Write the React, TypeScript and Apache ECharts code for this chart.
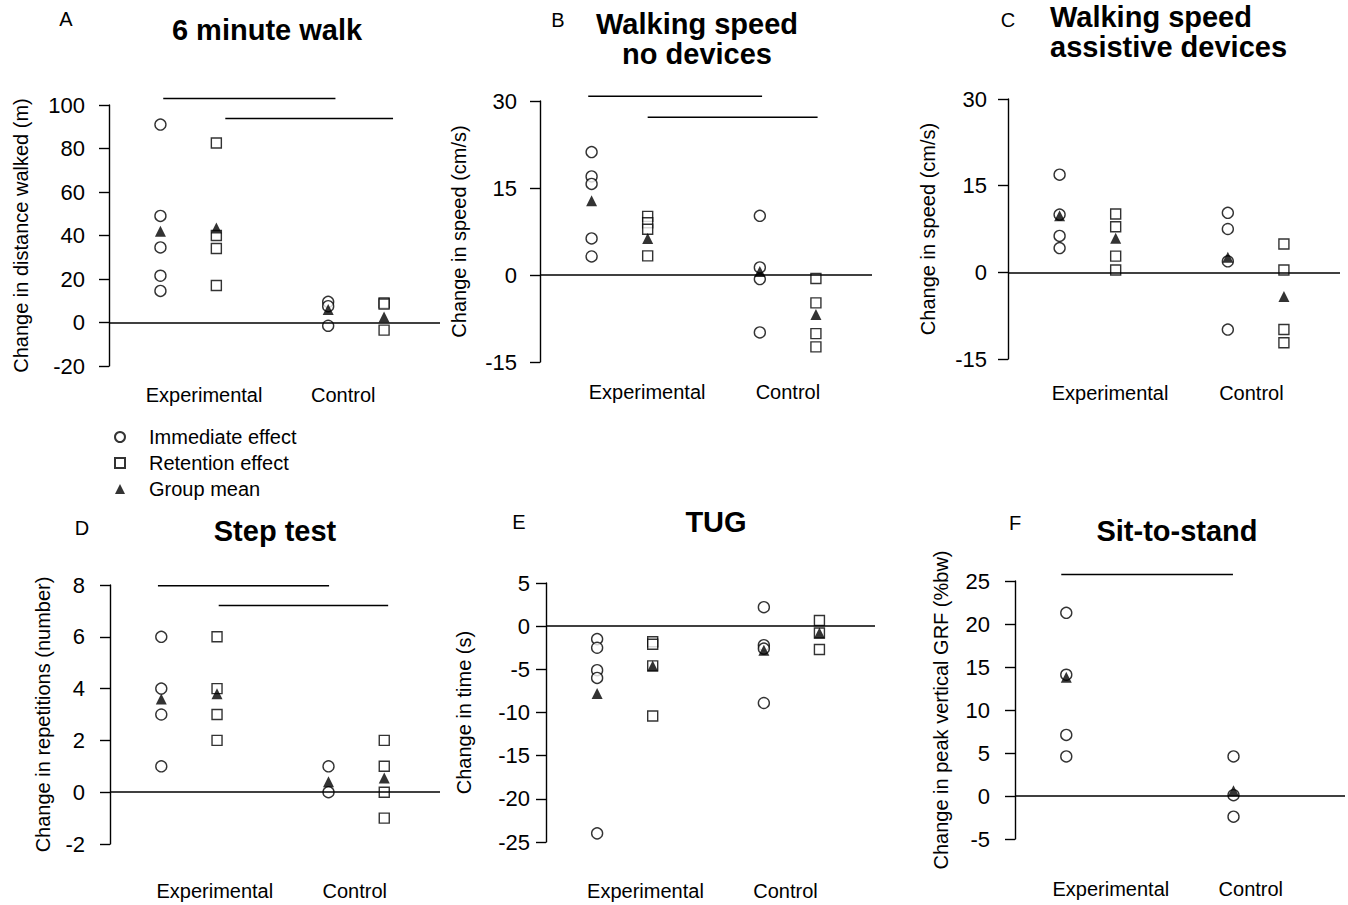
import React, { useEffect, useRef } from 'react';
import * as echarts from 'echarts';

const FONT = 'Liberation Sans, Arial, sans-serif';

// Group positions on the (hidden) x scale
const groupPositions = [1, 2, 4, 5]; // Exp-immediate, Exp-retention, Ctrl-immediate, Ctrl-retention
const categoryNames = ['Experimental', 'Control'];
const legendNames = ['Immediate effect', 'Retention effect', 'Group mean'];

// Panel A: 6 minute walk (m)
const aImmExp = [91, 49, 34.5, 21.5, 14.5];
const aImmCtl = [9.5, 7.5, -1.5];
const aRetExp = [82.5, 40, 34, 17];
const aRetCtl = [9, 8.5, -3.5];
const aMean = [42, 43.5, 6, 2.5];
const aBars = [[1.05, 4.13, 103], [2.16, 5.16, 93.8]];

// Panel B: Walking speed no devices (cm/s)
const bImmExp = [21.2, 17, 15.7, 6.3, 3.2];
const bImmCtl = [10.2, 1.3, -0.7, -9.9];
const bRetExp = [10.1, 9, 7.9, 3.3];
const bRetCtl = [-0.6, -4.8, -10.1, -12.4];
const bMean = [12.8, 6.3, 0.6, -6.8];
const bBars = [[0.94, 4.04, 30.8], [2.0, 5.03, 27.2]];

// Panel C: Walking speed assistive devices (cm/s)
const cImmExp = [16.9, 10, 6.3, 4.2];
const cImmCtl = [10.3, 7.5, 1.9, -9.9];
const cRetExp = [10.1, 7.9, 2.8, 0.4];
const cRetCtl = [4.9, 0.4, -9.9, -12.2];
const cMean = [9.8, 5.9, 2.6, -4.2];

// Panel D: Step test (repetitions)
const dImmExp = [6, 4, 3, 1];
const dImmCtl = [1, 0];
const dRetExp = [6, 4, 3, 2];
const dRetCtl = [2, 1, 0, -1];
const dMean = [3.6, 3.8, 0.4, 0.55];
const dBars = [[0.94, 4.01, 7.97], [2.03, 5.07, 7.21]];

// Panel E: TUG (s)
const eImmExp = [-1.5, -2.5, -5.1, -6, -24];
const eImmCtl = [2.2, -2.2, -2.6, -8.9];
const eRetExp = [-1.8, -2.1, -4.6, -10.4];
const eRetCtl = [0.65, -0.8, -2.7];
const eMean = [-7.8, -4.6, -2.8, -0.8];

// Panel F: Sit-to-stand (%bw)
const fImmExp = [21.3, 14.1, 7.1, 4.6];
const fImmCtl = [4.6, 0.1, -2.4];
const fMean = [13.8, 0.6];
const fMeanPositions = [1, 4];
const fBars = [[0.91, 3.99, 25.75]];

const yTicksA = [-20, 100, 20];
const yTicksB = [-15, 30, 15];
const yTicksC = [-15, 30, 15];
const yTicksD = [-2, 8, 2];
const yTicksE = [-25, 5, 5];
const yTicksF = [-5, 25, 5];

type Panel = {
  imm: number[][];
  ret: number[][] | null;
  mean: number[];
  meanPos: number[];
  bars: number[][];
  ticks: number[];
  yName: string;
  grid: { left: number; top: number; width: number; height: number };
  nameGap: number;
  labelMargin: number;
  catPos: number[];
  catMargin: number;
};

const panels: Panel[] = [
  {
    imm: [aImmExp, aImmCtl], ret: [aRetExp, aRetCtl], mean: aMean, meanPos: groupPositions, bars: aBars,
    ticks: yTicksA, yName: 'Change in distance walked (m)',
    grid: { left: 109, top: 105, width: 331, height: 261 }, nameGap: 78, labelMargin: 24,
    catPos: [1.78, 4.27], catMargin: 19,
  },
  {
    imm: [bImmExp, bImmCtl], ret: [bRetExp, bRetCtl], mean: bMean, meanPos: groupPositions, bars: bBars,
    ticks: yTicksB, yName: 'Change in speed (cm/s)',
    grid: { left: 540, top: 101, width: 332, height: 261 }, nameGap: 71, labelMargin: 23,
    catPos: [1.99, 4.5], catMargin: 20,
  },
  {
    imm: [cImmExp, cImmCtl], ret: [cRetExp, cRetCtl], mean: cMean, meanPos: groupPositions, bars: [],
    ticks: yTicksC, yName: 'Change in speed (cm/s)',
    grid: { left: 1008, top: 99, width: 332, height: 260 }, nameGap: 70, labelMargin: 21,
    catPos: [1.9, 4.42], catMargin: 24,
  },
  {
    imm: [dImmExp, dImmCtl], ret: [dRetExp, dRetCtl], mean: dMean, meanPos: groupPositions, bars: dBars,
    ticks: yTicksD, yName: 'Change in repetitions (number)',
    grid: { left: 110, top: 585, width: 330, height: 259 }, nameGap: 57, labelMargin: 25,
    catPos: [1.96, 4.47], catMargin: 37,
  },
  {
    imm: [eImmExp, eImmCtl], ret: [eRetExp, eRetCtl], mean: eMean, meanPos: groupPositions, bars: [],
    ticks: yTicksE, yName: 'Change in time (s)',
    grid: { left: 546, top: 583, width: 329, height: 259 }, nameGap: 72, labelMargin: 16,
    catPos: [1.87, 4.39], catMargin: 39,
  },
  {
    imm: [fImmExp, fImmCtl], ret: null, mean: fMean, meanPos: fMeanPositions, bars: fBars,
    ticks: yTicksF, yName: 'Change in peak vertical GRF (%bw)',
    grid: { left: 1015, top: 581, width: 330, height: 258 }, nameGap: 64, labelMargin: 25,
    catPos: [1.8, 4.31], catMargin: 40,
  },
];

const panelLetters = [
  { letter: 'A', x: 66, y: 19 },
  { letter: 'B', x: 558, y: 20 },
  { letter: 'C', x: 1008, y: 20 },
  { letter: 'D', x: 82, y: 528 },
  { letter: 'E', x: 519, y: 522 },
  { letter: 'F', x: 1015, y: 523 },
];

const titleLines = [
  { text: '6 minute walk', x: 267, y: 30, align: 'center' },
  { text: 'Walking speed', x: 697, y: 24, align: 'center' },
  { text: 'no devices', x: 697, y: 54, align: 'center' },
  { text: 'Walking speed', x: 1050, y: 17, align: 'left' },
  { text: 'assistive devices', x: 1050, y: 47, align: 'left' },
  { text: 'Step test', x: 275, y: 531, align: 'center' },
  { text: 'TUG', x: 716, y: 522, align: 'center' },
  { text: 'Sit-to-stand', x: 1177, y: 531, align: 'center' },
];

const hollow = { color: '#ffffff', borderColor: '#000000', borderWidth: 1.4 };

function buildOption() {
  const grid: any[] = [];
  const xAxis: any[] = [];
  const yAxis: any[] = [];
  const series: any[] = [];

  panels.forEach((p, i) => {
    grid.push({ ...p.grid, containLabel: false });
    xAxis.push({
      type: 'value', gridIndex: i, min: 0.08, max: 6,
      axisLine: { show: false, onZero: false }, axisTick: { show: false }, splitLine: { show: false },
      axisLabel: {
        show: true, customValues: p.catPos, margin: p.catMargin,
        formatter: (v: number) => (v < 3 ? categoryNames[0] : categoryNames[1]),
        fontSize: 20, fontFamily: FONT, color: '#000',
      },
    });
    yAxis.push({
      type: 'value', gridIndex: i, min: p.ticks[0], max: p.ticks[1], interval: p.ticks[2],
      name: p.yName, nameLocation: 'middle', nameGap: p.nameGap,
      nameTextStyle: { fontSize: 20, fontFamily: FONT, color: '#000' },
      axisLine: { show: true, lineStyle: { color: '#000', width: 1.4 } },
      axisTick: { show: true, inside: false, length: 10, lineStyle: { color: '#000', width: 1.4 } },
      axisLabel: { fontSize: 22, fontFamily: FONT, color: '#000', margin: p.labelMargin },
      splitLine: { show: false },
    });

    const immData = [
      ...p.imm[0].map((v) => [groupPositions[0], v]),
      ...p.imm[1].map((v) => [p.ret ? groupPositions[2] : p.meanPos[1], v]),
    ];
    series.push({
      type: 'scatter', name: legendNames[0], xAxisIndex: i, yAxisIndex: i,
      symbol: 'circle', symbolSize: 11, itemStyle: hollow, data: immData, z: 3,
      markLine: {
        silent: true, symbol: 'none', label: { show: false },
        lineStyle: { color: '#000', width: 1.5, type: 'solid' },
        data: [{ yAxis: 0 }],
      },
    });
    if (p.ret) {
      const retData = [
        ...p.ret[0].map((v) => [groupPositions[1], v]),
        ...p.ret[1].map((v) => [groupPositions[3], v]),
      ];
      series.push({
        type: 'scatter', name: legendNames[1], xAxisIndex: i, yAxisIndex: i,
        symbol: 'rect', symbolSize: 10, itemStyle: hollow, data: retData, z: 3,
      });
    }
    series.push({
      type: 'scatter', name: legendNames[2], xAxisIndex: i, yAxisIndex: i,
      symbol: 'triangle', symbolSize: 11, itemStyle: { color: '#000' },
      data: p.mean.map((v, k) => [p.meanPos[k], v]), z: 4,
    });
    p.bars.forEach((b, k) => {
      series.push({
        type: 'line', name: 'bar' + i + '_' + k, xAxisIndex: i, yAxisIndex: i,
        clip: false, symbol: 'none', silent: true,
        lineStyle: { color: '#000', width: 1.5 },
        data: [[b[0], b[2]], [b[1], b[2]]],
      });
    });
  });

  const graphic: any[] = [];
  panelLetters.forEach((t) => {
    graphic.push({
      type: 'text', x: t.x, y: t.y,
      style: { text: t.letter, font: `20px ${FONT}`, fill: '#000', textAlign: 'center', textVerticalAlign: 'middle' },
    });
  });
  titleLines.forEach((t) => {
    graphic.push({
      type: 'text', x: t.x, y: t.y,
      style: {
        text: t.text, font: `bold 29px ${FONT}`, fill: '#000', lineHeight: 29,
        textAlign: t.align, textVerticalAlign: 'middle',
      },
    });
  });

  return {
    animation: false,
    backgroundColor: '#fff',
    grid, xAxis, yAxis, series, graphic,
    legend: {
      orient: 'vertical', left: 109, top: 422, itemGap: 6, itemWidth: 10, itemHeight: 10,
      data: [
        { name: legendNames[0], icon: 'circle' },
        { name: legendNames[1], icon: 'rect' },
        { name: legendNames[2], icon: 'triangle' },
      ],
      textStyle: { fontSize: 20, fontFamily: FONT, color: '#000', padding: [0, 0, 0, 19] },
      selectedMode: false,
    },
  };
}

export default function App() {
  const ref = useRef<HTMLDivElement>(null);
  useEffect(() => {
    document.body.style.margin = '0';
    const chart = echarts.init(ref.current!, null, { renderer: 'svg' });
    chart.setOption(buildOption() as any);
    return () => chart.dispose();
  }, []);
  return <div ref={ref} style={{ width: 1348, height: 905, background: '#fff' }} />;
}
